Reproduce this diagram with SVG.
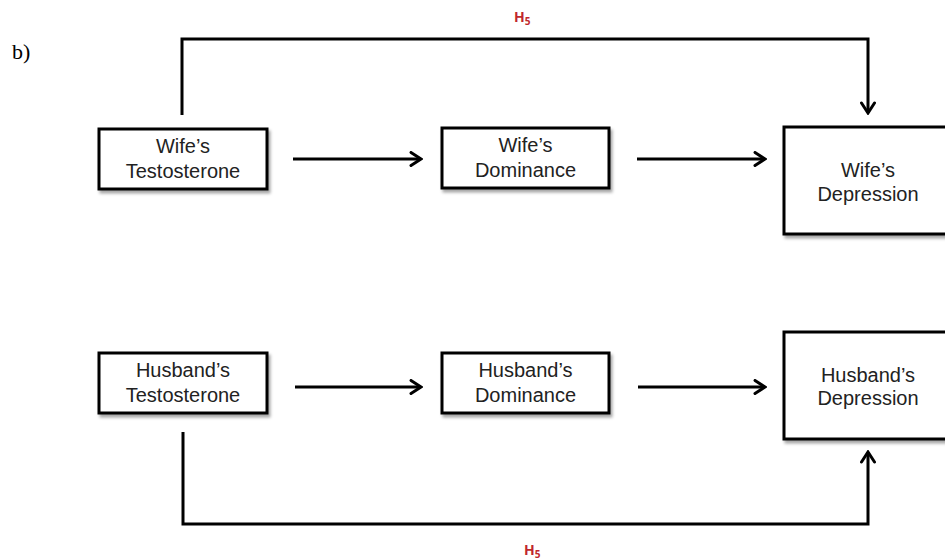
<svg xmlns="http://www.w3.org/2000/svg" width="945" height="560" viewBox="0 0 945 560">
  <defs>
    <filter id="shadow" x="-10%" y="-10%" width="130%" height="140%">
      <feDropShadow dx="2" dy="3" stdDeviation="1.6" flood-color="#000" flood-opacity="0.35"/>
    </filter>
    <marker id="open-arrow" viewBox="0 0 14 16" refX="12" refY="8" markerWidth="14" markerHeight="16" markerUnits="userSpaceOnUse" orient="auto">
      <path d="M2,1.5 L12,8 L2,14.5" fill="none" stroke="#000" stroke-width="3" stroke-linecap="round" stroke-linejoin="miter"/>
    </marker>
    <style>
      .box { fill: #fff; stroke: #000; stroke-width: 3; filter: url(#shadow); }
      .label { font-family: "Liberation Sans", Arial, sans-serif; font-size: 20px; fill: #222; text-anchor: middle; }
      .edge { fill: none; stroke: #000; stroke-width: 3; }
      .arrow { marker-end: url(#open-arrow); }
      .hyp { font-family: "Open Sans", "Liberation Sans", sans-serif; font-weight: bold; font-size: 14px; fill: #c0272d; }
      .panel { font-family: "Liberation Serif", "Times New Roman", serif; font-size: 22px; fill: #000; }
    </style>
  </defs>

  <rect width="945" height="560" fill="#fff"/>

  <text class="panel" x="12" y="59">b)</text>

  <!-- connectors -->
  <g id="connectors">
    <path class="edge arrow" d="M293,159 L421,159"/>
    <path class="edge arrow" d="M637,159 L765,159"/>
    <path class="edge arrow" d="M295,387 L421,387"/>
    <path class="edge arrow" d="M638,387 L765,387"/>
    <path class="edge arrow" d="M182,115 L182,39 L868,39 L868,113"/>
    <path class="edge arrow" d="M183,432 L183,524 L868,524 L868,452"/>
    <text class="hyp" x="514" y="22">H<tspan font-size="10" dy="3">5</tspan></text>
    <text class="hyp" x="524" y="555">H<tspan font-size="10" dy="3">5</tspan></text>
  </g>

  <!-- wife row -->
  <g id="wife-testosterone">
    <rect class="box" x="99" y="129" width="168" height="60"/>
    <text class="label" x="183" y="153">Wife’s</text>
    <text class="label" x="183" y="177.5">Testosterone</text>
  </g>
  <g id="wife-dominance">
    <rect class="box" x="442" y="128" width="167" height="60"/>
    <text class="label" x="525.5" y="152">Wife’s</text>
    <text class="label" x="525.5" y="176.5">Dominance</text>
  </g>
  <g id="wife-depression">
    <rect class="box" x="784" y="127" width="168" height="107"/>
    <text class="label" x="868" y="177">Wife’s</text>
    <text class="label" x="868" y="200.5">Depression</text>
  </g>

  <!-- husband row -->
  <g id="husband-testosterone">
    <rect class="box" x="99" y="353" width="168" height="60"/>
    <text class="label" x="183" y="376.5">Husband’s</text>
    <text class="label" x="183" y="401.5">Testosterone</text>
  </g>
  <g id="husband-dominance">
    <rect class="box" x="442" y="353" width="167" height="60"/>
    <text class="label" x="525.5" y="377">Husband’s</text>
    <text class="label" x="525.5" y="401.5">Dominance</text>
  </g>
  <g id="husband-depression">
    <rect class="box" x="784" y="332" width="168" height="107"/>
    <text class="label" x="868" y="382">Husband’s</text>
    <text class="label" x="868" y="405">Depression</text>
  </g>
</svg>
